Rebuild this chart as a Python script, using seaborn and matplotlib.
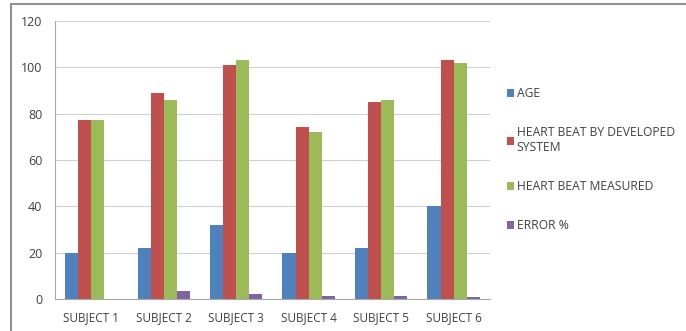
import numpy as np
import pandas as pd
import matplotlib.pyplot as plt
import matplotlib.lines as mlines
import seaborn as sns

# Data
subjects = ['SUBJECT 1', 'SUBJECT 2', 'SUBJECT 3', 'SUBJECT 4', 'SUBJECT 5', 'SUBJECT 6']
age = [20, 22, 32, 20, 22, 40]
hb_developed = [77, 89, 101, 74, 85, 103]
hb_measured = [77, 86, 103, 72, 86, 102]
error_pct = [0, 3.4, 1.9, 1.4, 1.2, 1.0]

series_names = ['AGE', 'HEART BEAT BY DEVELOPED\nSYSTEM', 'HEART BEAT MEASURED', 'ERROR %']
colors = ['#4F81BD', '#C0504D', '#9BBB59', '#8064A2']

df = pd.DataFrame({'subject': subjects,
                   series_names[0]: age,
                   series_names[1]: hb_developed,
                   series_names[2]: hb_measured,
                   series_names[3]: error_pct})
data = df.melt(id_vars='subject', var_name='series', value_name='value')

sns.set_style('white')
plt.rcParams['font.family'] = ['Open Sans', 'DejaVu Sans']

fig = plt.figure(figsize=(6.86, 3.31), dpi=100)
ax = fig.add_axes([0.080, 0.097, 0.634, 0.840])

sns.barplot(data=data, x='subject', y='value', hue='series', palette=colors,
            width=0.72, saturation=1, linewidth=0, ax=ax, legend=True)

ax.set_ylim(0, 120)
ax.set_yticks(range(0, 121, 20))
ax.set_xlim(-0.5, 5.5)
ax.yaxis.grid(True, color='#d0d0d0', linewidth=0.8)
ax.set_axisbelow(True)
ax.set_xlabel('')
ax.set_ylabel('')
for s in ['top', 'right']:
    ax.spines[s].set_visible(False)
ax.spines['left'].set_color('#a8a8a8')
ax.spines['bottom'].set_color('#a8a8a8')
ax.tick_params(axis='y', labelsize=9, colors='#404040', length=0, pad=9)
ax.tick_params(axis='x', labelsize=8.5, colors='#404040', length=0, pad=9)

# small category boundary ticks
ax.set_xticks(np.arange(-0.5, 6, 1), minor=True)
ax.tick_params(axis='x', which='minor', length=3, color='#a8a8a8')

handles, labels = ax.get_legend_handles_labels()
leg = ax.legend(handles, labels, loc='center left', bbox_to_anchor=(1.04, 0.50),
                frameon=False, fontsize=8.7, handlelength=0.55, handleheight=0.55,
                handletextpad=0.25, labelspacing=2.15, borderaxespad=0, borderpad=0)
for t in leg.get_texts():
    t.set_color('#404040')

# outer chart border
fig.add_artist(mlines.Line2D([0.016, 0.016], [0, 0.988], color='#909090', linewidth=1.5,
                             transform=fig.transFigure))
fig.add_artist(mlines.Line2D([0.016, 1.0], [0.988, 0.988], color='#909090', linewidth=1.5,
                             transform=fig.transFigure))

fig.savefig('out.png', dpi=100)
